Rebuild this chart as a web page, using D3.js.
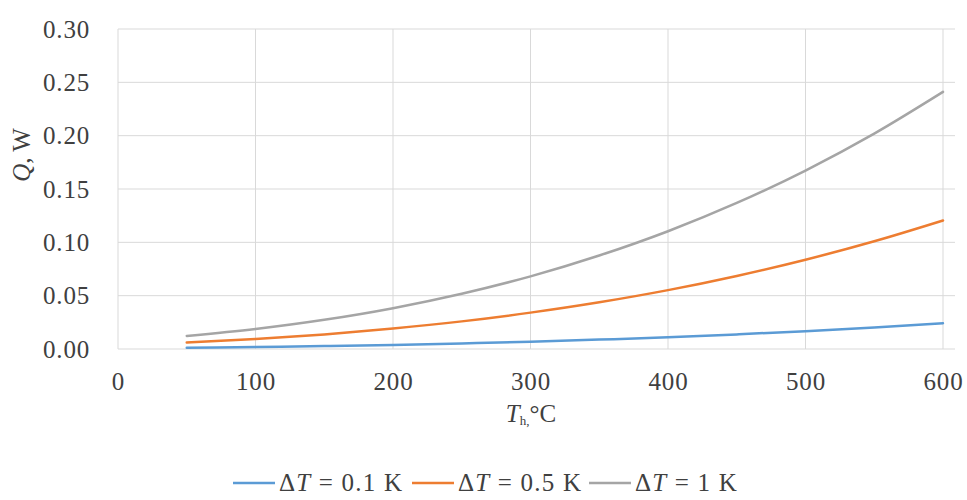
<!DOCTYPE html>
<html>
<head>
<meta charset="utf-8">
<script src="https://cdn.jsdelivr.net/npm/d3@7"></script>
<style>
  body { margin: 0; background: #fff; }
</style>
</head>
<body>
<div id="chart"></div>
<script>
//set the dimensions of the page
const width = 967;
const height = 500;
const serif = "'Liberation Serif', 'Times New Roman', serif";

//data
const temps = [50, 100, 150, 200, 250, 300, 350, 400, 450, 500, 550, 600];
const q01 = [0.0012, 0.0019, 0.0027, 0.0038, 0.0052, 0.0068, 0.0088, 0.0110, 0.0137, 0.0167, 0.0202, 0.0241];
const q05 = [0.0061, 0.0094, 0.0137, 0.0192, 0.0259, 0.0341, 0.0438, 0.0552, 0.0685, 0.0837, 0.1010, 0.1205];
const q1 = [0.0122, 0.0188, 0.0274, 0.0383, 0.0518, 0.0681, 0.0876, 0.1104, 0.1369, 0.1673, 0.2019, 0.2410];
const seriesNames = ["0.1", "0.5", "1"];
const seriesColors = ["#5B9BD5", "#ED7D31", "#A5A5A5"];
const xTicks = [0, 100, 200, 300, 400, 500, 600];
const yTicks = [0, 0.05, 0.10, 0.15, 0.20, 0.25, 0.30];

const series = [q01, q05, q1].map((vals, i) => ({
  name: seriesNames[i],
  color: seriesColors[i],
  points: temps.map((t, j) => ({ t: t, q: vals[j] })),
}));

const svg = d3
  .select("#chart")
  .append("svg")
  .attr("width", width)
  .attr("height", height);

//scales
const xScale = d3.scaleLinear().domain([0, 600]).range([118, 943]);
const yScale = d3.scaleLinear().domain([0, 0.3]).range([349, 29]);

//horizontal gridlines
svg
  .append("g")
  .selectAll("line")
  .data(yTicks)
  .enter()
  .append("line")
  .attr("x1", xScale(0))
  .attr("x2", xScale(600) + 12)
  .attr("y1", (d) => yScale(d))
  .attr("y2", (d) => yScale(d))
  .attr("stroke", "#D9D9D9")
  .attr("stroke-width", 1);

//vertical gridlines
svg
  .append("g")
  .selectAll("line")
  .data(xTicks)
  .enter()
  .append("line")
  .attr("x1", (d) => xScale(d))
  .attr("x2", (d) => xScale(d))
  .attr("y1", yScale(0.3))
  .attr("y2", yScale(0))
  .attr("stroke", "#D9D9D9")
  .attr("stroke-width", 1);

//y-axis tick labels
const yAxis = svg
  .append("g")
  .attr("transform", "translate(" + (xScale(0) - 25) + ",0)")
  .call(d3.axisLeft(yScale).tickValues(yTicks).tickFormat(d3.format(".2f")).tickSize(0));
yAxis.select(".domain").remove();
yAxis
  .selectAll("text")
  .style("font-family", serif)
  .style("font-size", "25px")
  .style("letter-spacing", "0.8px")
  .style("fill", "#404040");

//x-axis tick labels
const xAxis = svg
  .append("g")
  .attr("transform", "translate(0," + (yScale(0) + 20) + ")")
  .call(d3.axisBottom(xScale).tickValues(xTicks).tickSize(0));
xAxis.select(".domain").remove();
xAxis
  .selectAll("text")
  .style("font-family", serif)
  .style("font-size", "25px")
  .style("letter-spacing", "0.8px")
  .style("fill", "#404040");

//lines
const line = d3
  .line()
  .x((d) => xScale(d.t))
  .y((d) => yScale(d.q))
  .curve(d3.curveMonotoneX);

svg
  .append("g")
  .selectAll("path")
  .data(series)
  .enter()
  .append("path")
  .attr("d", (d) => line(d.points))
  .attr("fill", "none")
  .attr("stroke", (d) => d.color)
  .attr("stroke-width", 2.5)
  .attr("stroke-linecap", "round");

//x-axis title
const xTitle = svg
  .append("text")
  .attr("x", 531)
  .attr("y", 422)
  .attr("text-anchor", "middle")
  .style("font-family", serif)
  .style("font-size", "25px")
  .style("fill", "#404040");
xTitle.append("tspan").style("font-style", "italic").text("T");
xTitle.append("tspan").style("font-size", "13px").attr("dy", "3").text("h,");
xTitle.append("tspan").attr("dy", "-3").text("°C");

//y-axis title
const yTitle = svg
  .append("text")
  .attr("transform", "translate(30,155) rotate(-90)")
  .attr("text-anchor", "middle")
  .style("font-family", serif)
  .style("font-size", "25px")
  .style("fill", "#404040");
yTitle.append("tspan").style("font-style", "italic").text("Q");
yTitle.append("tspan").text(", W");

//legend
const legendX = [233, 412, 589];
const legend = svg
  .append("g")
  .selectAll("g")
  .data(series)
  .enter()
  .append("g")
  .attr("transform", (d, i) => "translate(" + legendX[i] + ",483)");

legend
  .append("line")
  .attr("x1", 0)
  .attr("x2", 42)
  .attr("stroke", (d) => d.color)
  .attr("stroke-width", 2.5);

const legendText = legend
  .append("text")
  .attr("x", 46)
  .attr("y", 8)
  .style("font-family", serif)
  .style("font-size", "25px")
  .style("letter-spacing", "1.2px")
  .style("fill", "#404040");
legendText.append("tspan").text("Δ");
legendText.append("tspan").style("font-style", "italic").text("T");
legendText.append("tspan").text((d) => " = " + d.name + " K");
</script>
</body>
</html>
